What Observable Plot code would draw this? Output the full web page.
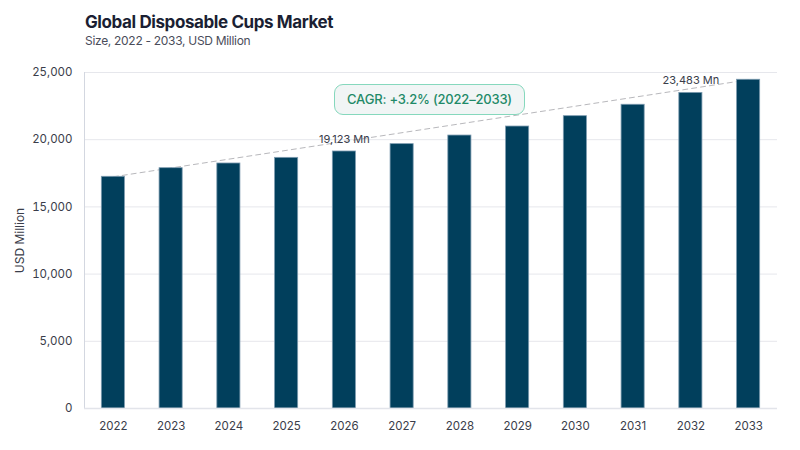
<!DOCTYPE html>
<html>
<head>
<meta charset="utf-8">
<script src="https://cdn.jsdelivr.net/npm/d3@7"></script>
<script src="https://cdn.jsdelivr.net/npm/@observablehq/plot@0.6"></script>
<style>
  html, body { margin: 0; padding: 0; background: #fff; }
  body { width: 800px; height: 450px; overflow: hidden; font-family: Inter, "Noto Sans", sans-serif; }
  #wrap { position: relative; width: 800px; height: 450px; }
  #title { position: absolute; left: 85px; top: 12.5px; font-size: 17px; line-height: 18px; font-weight: 700; color: #1b1f33; letter-spacing: -0.4px; }
  #subtitle { position: absolute; left: 85px; top: 34px; font-size: 12px; line-height: 13px; color: #4a4d5a; letter-spacing: -0.3px; }
  #chart { position: absolute; left: 0; top: 55px; }
  #cagr { position: absolute; left: 334px; top: 84px; width: 189px; height: 29px; box-sizing: content-box;
          border: 1.5px solid #86d8bd; border-radius: 9px; background: #f1f5f5; color: #1f8a68;
          font-size: 13px; font-weight: 500; letter-spacing: -0.2px; line-height: 29px; text-align: center; }
</style>
</head>
<body>
<div id="wrap">
  <div id="title">Global Disposable Cups Market</div>
  <div id="subtitle">Size, 2022 - 2033, USD Million</div>
  <div id="chart"></div>
  <div id="cagr">CAGR: +3.2% (2022–2033)</div>
</div>
<script>
const years = ["2022","2023","2024","2025","2026","2027","2028","2029","2030","2031","2032","2033"];
const values = [17240, 17880, 18230, 18650, 19123, 19670, 20310, 20980, 21750, 22600, 23483, 24460];
const yTicks = [0, 5000, 10000, 15000, 20000, 25000];
const labelYears = ["2026", "2032"];

const data = years.map((year, i) => ({year, value: values[i]}));
const trend = [data[0], data[data.length - 1]];
const labels = data.filter(d => labelYears.includes(d.year));

const chart = Plot.plot({
  width: 800,
  height: 395,
  marginTop: 17,
  marginBottom: 42,
  marginLeft: 84,
  marginRight: 23,
  style: { fontFamily: "Inter, 'Noto Sans', sans-serif", fontSize: "11.5px", color: "#3a3d4a", background: "#fff" },
  x: { type: "band", domain: years, paddingInner: 0.6, paddingOuter: 0.3, round: false, label: null },
  y: { domain: [0, 25000], label: null },
  marks: [
    Plot.gridY(yTicks, { stroke: "#e6e7ec", strokeOpacity: 1, strokeWidth: 1 }),
    Plot.axisY({ ticks: yTicks, tickSize: 0, tickPadding: 12, tickFormat: d3.format(","), label: null }),
    Plot.text(["USD Million"], { frameAnchor: "left", textAnchor: "middle", dx: -64, rotate: -90, fontSize: 12, fill: "#3a3d4a" }),
    Plot.axisX({ tickSize: 0, tickPadding: 13, label: null }),
    Plot.frame({ anchor: "left", stroke: "#d3d7e0", strokeWidth: 1 }),
    Plot.line(trend, { x: "year", y: "value", stroke: "#b8b8bc", strokeWidth: 1, strokeDasharray: "5,4" }),
    Plot.barY(data, { x: "year", y: "value", fill: "#013f5c", stroke: "#7d9bb0", strokeWidth: 0.8 }),
    Plot.ruleY([0], { stroke: "#e2e4ea", strokeWidth: 1.5 }),
    Plot.text(labels, { x: "year", y: "value", text: d => d3.format(",")(d.value) + " Mn", dy: -12, fontSize: 11, fill: "#3a3d4a" })
  ]
});
document.getElementById("chart").appendChild(chart);
</script>
</body>
</html>
